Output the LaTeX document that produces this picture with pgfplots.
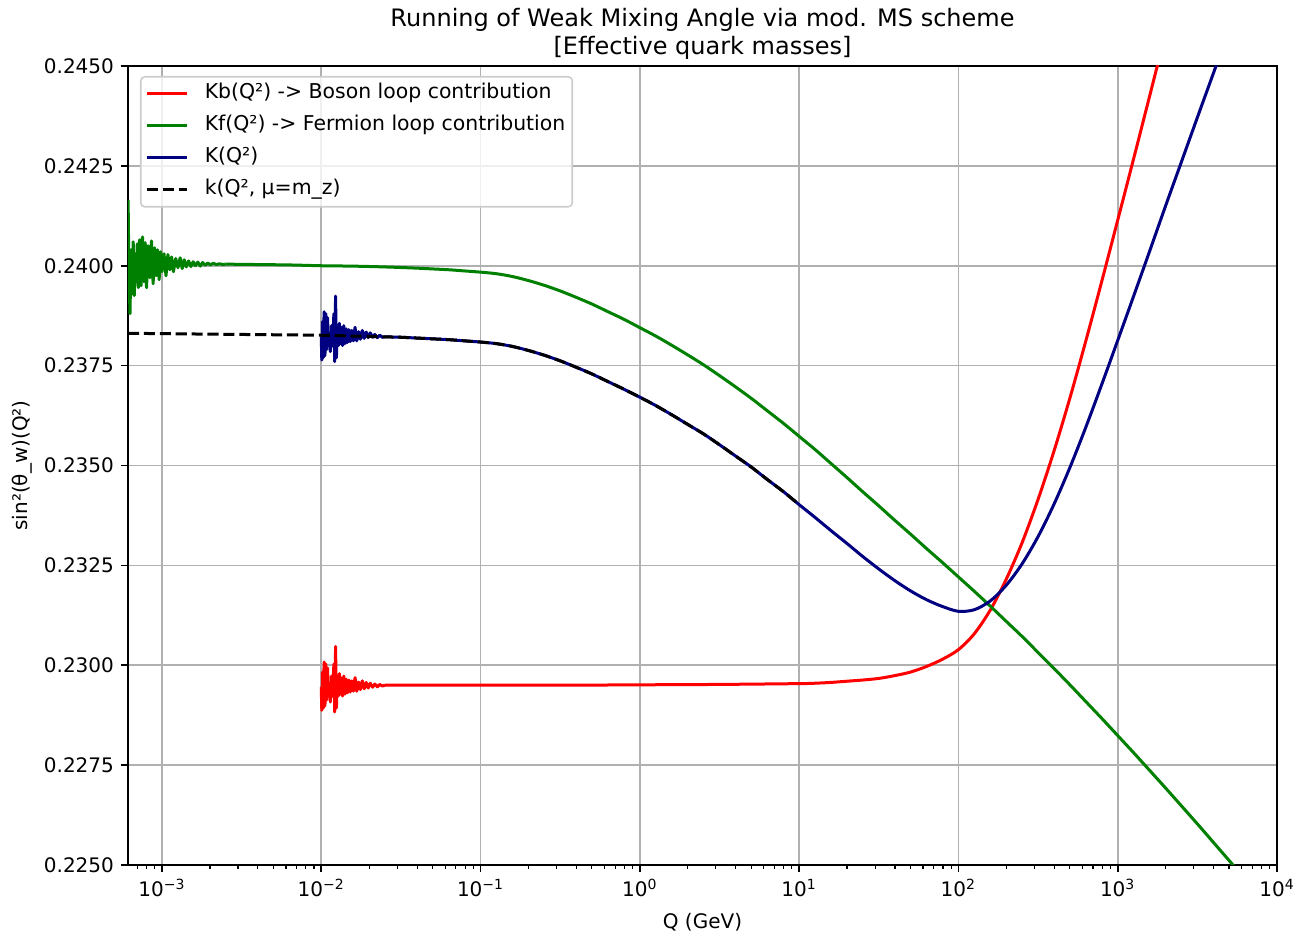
\documentclass[border=0pt]{standalone}
\usepackage{fontspec}
\setmainfont{DejaVu Sans}
\usepackage{pgfplots}
\pgfplotsset{compat=1.18}

\definecolor{mplred}{HTML}{FF0000}
\definecolor{mplgreen}{HTML}{008000}
\definecolor{mplnavy}{HTML}{000080}
\definecolor{gridgray}{HTML}{B0B0B0}
\definecolor{legendedge}{HTML}{CCCCCC}

\begin{document}
\begin{tikzpicture}
\useasboundingbox (-64pt,-36pt) rectangle (584.5pt,432.5pt);
\begin{axis}[
  at={(0,0)}, anchor=south west,
  scale only axis, width=574.5pt, height=399.5pt,
  xmode=log, xmin=6.12e-4, xmax=1e4,
  ymin=0.225, ymax=0.245,
  xtick={1e-3,1e-2,1e-1,1,10,100,1000,10000},
  xticklabels={10\textsuperscript{−3},10\textsuperscript{−2},10\textsuperscript{−1},10\textsuperscript{0},10\textsuperscript{1},10\textsuperscript{2},10\textsuperscript{3},10\textsuperscript{4}},
  minor xtick={7e-4,8e-4,9e-4,2e-3,3e-3,4e-3,5e-3,6e-3,7e-3,8e-3,9e-3,0.02,0.03,0.04,0.05,0.06,0.07,0.08,0.09,0.2,0.3,0.4,0.5,0.6,0.7,0.8,0.9,2,3,4,5,6,7,8,9,20,30,40,50,60,70,80,90,200,300,400,500,600,700,800,900,2000,3000,4000,5000,6000,7000,8000,9000},
  ytick={0.2250,0.2275,0.2300,0.2325,0.2350,0.2375,0.2400,0.2425,0.2450},
  scaled y ticks=false,
  yticklabel style={/pgf/number format/.cd, fixed, fixed zerofill, precision=4, assume math mode=true},
  tick align=outside, tick pos=left,
  major tick length=3.5pt, minor tick length=2pt,
  major tick style={line width=0.8pt, black},
  minor tick style={line width=0.6pt, black},
  axis line style={line width=0.8pt},
  grid=major, grid style={gridgray, line width=0.8pt},
  title={Running of Weak Mixing Angle via mod. MS scheme\\{}[Effective quark masses]},
  title style={at={(0.5,1)}, anchor=south, yshift=-3pt, inner sep=0pt, align=center, font=\fontsize{12}{14}\selectfont},
  xlabel={Q (GeV)},
  xlabel style={at={(axis description cs:0.5,0)}, anchor=center, yshift=-28.5pt},
  ylabel={sin²(θ\_w)(Q²)},
  ylabel style={at={(axis description cs:-0.0923,0.5)}, anchor=center},
  legend cell align=left,
  legend image code/.code={\draw[#1] (0pt,0pt) -- (20pt,0pt);},
  legend style={at={(0,1)}, anchor=north west, xshift=6pt, yshift=-5pt,
    draw=legendedge, line width=0.8pt, rounded corners=2pt,
    fill=white, fill opacity=0.8, draw opacity=1, text opacity=1,
    inner xsep=2.5pt, inner ysep=2.5pt, row sep=4pt,
    nodes={inner xsep=1pt, inner ysep=1pt, text height=7.5pt, text depth=2.5pt},
    /tikz/every odd column/.append style={column sep=7pt},
    font=\fontsize{10.2}{12}\selectfont},
  every axis plot/.append style={line width=1.5pt, line join=round},
]

% Boson loop contribution Kb
\addplot[mplred, smooth] coordinates {
(0.02512,0.22950)(0.1,0.22950)(0.3162,0.22950)(1,0.22951)(3.162,0.22952)(10,0.22954)
(12.59,0.22955)(15.85,0.22957)(19.95,0.22960)(25.12,0.22963)(31.62,0.22967)(39.81,0.22974)
(50.12,0.22983)(63.10,0.22997)(79.43,0.23015)(100,0.23039)(125.9,0.23079)(158.5,0.23138)
(199.5,0.23215)(251.2,0.23307)(316.2,0.23415)(398.1,0.23536)(501.2,0.23669)(631.0,0.23812)
(794.3,0.23961)(1000,0.24114)(1259,0.24268)(1585,0.24424)(1995,0.24581)
};
\addlegendentry{{Kb(Q²) -> Boson loop contribution}}
\addplot[mplred, forget plot] coordinates {
(0.01000,0.22945)(0.01008,0.22887)(0.01018,0.22983)(0.01030,0.22893)(0.01042,0.23008)(0.01055,0.22898)
(0.01068,0.23003)(0.01080,0.22913)(0.01095,0.22993)(0.01110,0.22923)(0.01125,0.22953)(0.01140,0.22908)
(0.01160,0.22973)(0.01180,0.22923)(0.01200,0.23003)(0.01215,0.22883)(0.01230,0.23047)(0.01245,0.22893)
(0.01262,0.22973)(0.01280,0.22923)(0.01300,0.22979)(0.01320,0.22928)(0.01340,0.22968)(0.01360,0.22923)
(0.01385,0.22973)(0.01410,0.22928)(0.01435,0.22965)(0.01460,0.22931)(0.01490,0.22963)(0.01520,0.22933)
(0.01555,0.22961)(0.01590,0.22935)(0.01630,0.22969)(0.01670,0.22935)(0.01715,0.22958)(0.01760,0.22939)
(0.01810,0.22961)(0.01860,0.22941)(0.01915,0.22957)(0.01970,0.22943)(0.02030,0.22955)(0.02100,0.22945)
(0.02170,0.22953)(0.02250,0.22946)(0.02330,0.22952)(0.02420,0.22948)(0.02512,0.22950)
};

% Fermion loop contribution Kf
\addplot[mplgreen, smooth] coordinates {
(2.512e-3,0.24004)(3.981e-3,0.24003)(6.310e-3,0.24002)(0.01,0.24000)(0.01585,0.23999)(0.02512,0.23997)
(0.03981,0.23994)(0.05012,0.23992)(0.06310,0.23990)(0.07943,0.23987)(0.1,0.23984)(0.1259,0.23980)
(0.1585,0.23973)(0.1995,0.23963)(0.2512,0.23951)(0.3162,0.23937)(0.3981,0.23921)(0.5012,0.23904)
(0.6310,0.23885)(0.7943,0.23866)(1,0.23845)(1.259,0.23824)(1.585,0.23801)(1.995,0.23777)
(2.512,0.23752)(3.162,0.23725)(3.981,0.23697)(5.012,0.23668)(6.310,0.23637)(7.943,0.23606)
(10,0.23573)(12.59,0.23540)(15.85,0.23505)(19.95,0.23470)(25.12,0.23434)(31.62,0.23399)
(39.81,0.23363)(50.12,0.23328)(63.10,0.23292)(79.43,0.23257)(100,0.23221)(125.9,0.23185)
(158.5,0.23148)(199.5,0.23110)(251.2,0.23072)(316.2,0.23032)(398.1,0.22992)(501.2,0.22951)
(631.0,0.22909)(794.3,0.22867)(1000,0.22824)(1259,0.22781)(1585,0.22737)(1995,0.22693)
(2512,0.22648)(3162,0.22603)(3981,0.22557)(5012,0.22511)(6310,0.22465)
};
\addlegendentry{{Kf(Q²) -> Fermion loop contribution}}
\addplot[mplgreen, forget plot] coordinates {
(6.13e-4,0.24165)(6.2e-4,0.23990)(6.3e-4,0.23880)(6.4e-4,0.24040)(6.5e-4,0.23930)(6.6e-4,0.24060)
(6.7e-4,0.23925)(6.8e-4,0.24030)(6.9e-4,0.23960)(7.0e-4,0.24055)(7.1e-4,0.23945)(7.25e-4,0.24065)
(7.4e-4,0.23950)(7.55e-4,0.24072)(7.7e-4,0.23960)(7.85e-4,0.24058)(8.0e-4,0.23945)(8.2e-4,0.24050)
(8.4e-4,0.23970)(8.6e-4,0.24062)(8.8e-4,0.23955)(9.0e-4,0.24045)(9.2e-4,0.23975)(9.4e-4,0.24040)
(9.6e-4,0.23965)(9.8e-4,0.24035)(1.0e-3,0.23985)(1.03e-3,0.24030)(1.06e-3,0.23975)(1.09e-3,0.24028)
(1.12e-3,0.23990)(1.15e-3,0.24022)(1.18e-3,0.23985)(1.22e-3,0.24018)(1.26e-3,0.23995)(1.30e-3,0.24020)
(1.34e-3,0.23993)(1.38e-3,0.24015)(1.42e-3,0.23997)(1.47e-3,0.24012)(1.52e-3,0.23998)(1.57e-3,0.24010)
(1.62e-3,0.24000)(1.68e-3,0.24009)(1.74e-3,0.23999)(1.80e-3,0.24008)(1.87e-3,0.24001)(1.94e-3,0.24007)
(2.01e-3,0.24002)(2.1e-3,0.24006)(2.2e-3,0.24003)(2.3e-3,0.24005)(2.4e-3,0.24003)(2.512e-3,0.24004)
};

% Total K(Q^2)
\addplot[mplnavy, smooth] coordinates {
(0.02512,0.23822)(0.03162,0.23821)(0.03981,0.23819)(0.05012,0.23817)(0.06310,0.23815)(0.07943,0.23812)
(0.1,0.23809)(0.1259,0.23805)(0.1585,0.23798)(0.1995,0.23788)(0.2512,0.23776)(0.3162,0.23762)
(0.3981,0.23746)(0.5012,0.23729)(0.6310,0.23710)(0.7943,0.23691)(1,0.23671)(1.259,0.23650)
(1.585,0.23627)(1.995,0.23603)(2.512,0.23579)(3.162,0.23552)(3.981,0.23524)(5.012,0.23496)
(6.310,0.23465)(7.943,0.23435)(10,0.23402)(12.59,0.23370)(15.85,0.23337)(19.95,0.23305)
(25.12,0.23272)(31.62,0.23241)(39.81,0.23212)(50.12,0.23186)(63.10,0.23164)(79.43,0.23147)
(100,0.23135)(125.9,0.23139)(158.5,0.23161)(199.5,0.23200)(251.2,0.23254)(316.2,0.23322)
(398.1,0.23403)(501.2,0.23495)(631.0,0.23596)(794.3,0.23703)(1000,0.23813)(1259,0.23924)
(1585,0.24036)(1995,0.24149)(2512,0.24260)(3162,0.24371)(3981,0.24481)(5012,0.24591)
};
\addlegendentry{{K(Q²)}}
\addplot[mplnavy, forget plot] coordinates {
(0.01000,0.23822)(0.01008,0.23764)(0.01018,0.23860)(0.01030,0.23770)(0.01042,0.23885)(0.01055,0.23775)
(0.01068,0.23880)(0.01080,0.23790)(0.01095,0.23870)(0.01110,0.23800)(0.01125,0.23830)(0.01140,0.23785)
(0.01160,0.23850)(0.01180,0.23800)(0.01200,0.23880)(0.01215,0.23760)(0.01230,0.23924)(0.01245,0.23770)
(0.01262,0.23850)(0.01280,0.23800)(0.01300,0.23856)(0.01320,0.23805)(0.01340,0.23845)(0.01360,0.23800)
(0.01385,0.23850)(0.01410,0.23805)(0.01435,0.23842)(0.01460,0.23808)(0.01490,0.23840)(0.01520,0.23810)
(0.01555,0.23838)(0.01590,0.23812)(0.01630,0.23846)(0.01670,0.23812)(0.01715,0.23835)(0.01760,0.23816)
(0.01810,0.23838)(0.01860,0.23818)(0.01915,0.23834)(0.01970,0.23820)(0.02030,0.23832)(0.02100,0.23821)
(0.02170,0.23828)(0.02250,0.23820)(0.02330,0.23826)(0.02420,0.23821)(0.02512,0.23822)
};

% Analytic k(Q^2) at mu = m_Z
\addplot[black, dash pattern=on 5.55pt off 2.4pt, smooth] coordinates {
(6.12e-4,0.23831)(1e-3,0.23830)(3.162e-3,0.23828)(0.01,0.23826)(0.01585,0.23824)(0.02512,0.23822)
(0.03162,0.23821)(0.03981,0.23819)(0.05012,0.23817)(0.06310,0.23815)(0.07943,0.23812)
(0.1,0.23809)(0.1259,0.23805)(0.1585,0.23798)(0.1995,0.23788)(0.2512,0.23776)(0.3162,0.23762)
(0.3981,0.23746)(0.5012,0.23729)(0.6310,0.23710)(0.7943,0.23691)(1,0.23671)(1.259,0.23650)
(1.585,0.23627)(1.995,0.23603)(2.512,0.23579)(3.162,0.23552)(3.981,0.23524)(5.012,0.23496)
(6.310,0.23465)(7.943,0.23435)(10,0.23402)
};
\addlegendentry{{k(Q², μ=m\_z)}}

\end{axis}
\end{tikzpicture}
\end{document}
